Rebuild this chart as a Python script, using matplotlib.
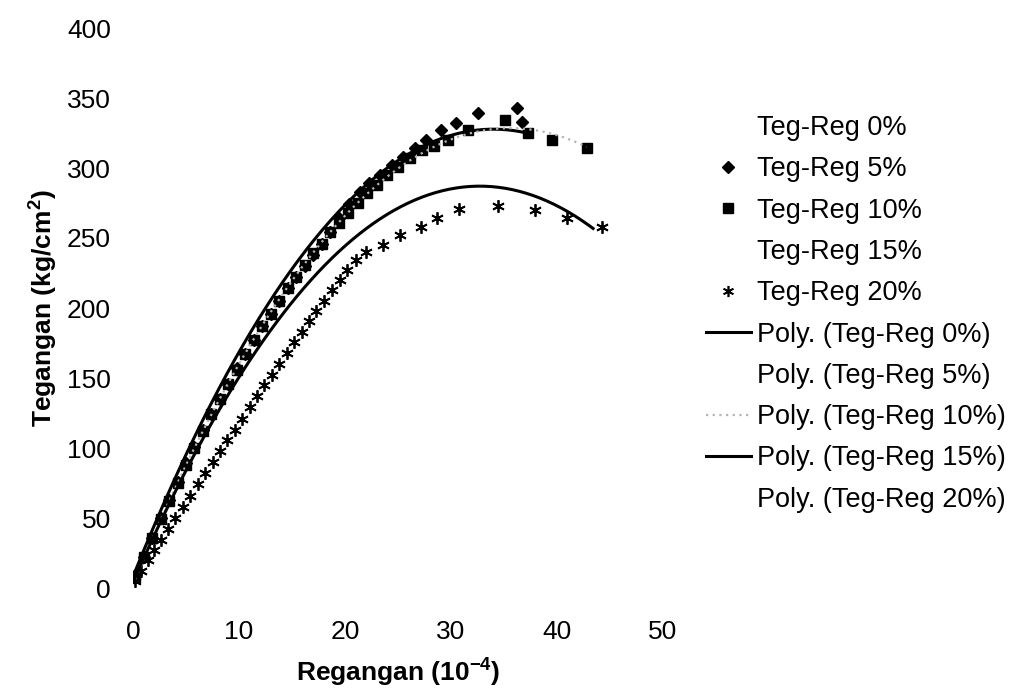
import numpy as np
import matplotlib
matplotlib.use("Agg")
import matplotlib.pyplot as plt
from matplotlib.lines import Line2D

plt.rcParams['font.family'] = ['Liberation Sans', 'DejaVu Sans']
plt.rcParams['mathtext.default'] = 'regular'

# ---- data ----
# Teg-Reg 0% (markers not visible in the original, only its trendline)
x0 = [0, 2, 4, 6, 8, 10, 12, 14, 16, 18, 20, 22, 24, 26, 28, 30, 32, 34, 36, 37.6]
y0 = [8, 46, 77, 112, 139, 170, 193, 219, 237, 258, 272, 289, 299, 311, 317, 324, 326, 329, 326, 324]

# Teg-Reg 5% (diamonds)
x5 = [0.3, 1.0, 1.8, 2.6, 3.4, 4.2, 5.0, 5.8, 6.6, 7.4, 8.2, 9.0, 9.8, 10.6, 11.4, 12.2,
      13.0, 13.8, 14.6, 15.4, 16.2, 17.0, 17.8, 18.6, 19.4, 20.4, 21.4, 22.3, 23.3, 24.4,
      25.5, 26.6, 27.6, 29.1, 30.5, 32.5, 36.2, 36.7]
y5 = [10, 22, 36, 50, 63, 76, 89, 101, 113, 124, 135, 146, 157, 167, 177, 187,
      196, 205, 214, 222, 230, 238, 246, 254, 264, 274, 283, 289, 295, 302,
      308, 314, 320, 327, 332, 339, 343, 333]

# Teg-Reg 10% (squares)
x10 = [0.2, 1.0, 1.8, 2.6, 3.4, 4.2, 5.0, 5.8, 6.6, 7.4, 8.2, 9.0, 9.8, 10.6, 11.4, 12.2,
       13.0, 13.8, 14.6, 15.4, 16.2, 17.0, 17.8, 18.6, 19.4, 20.3, 21.2, 22.1, 23.0, 24.0,
       25.0, 26.1, 27.3, 28.4, 29.7, 31.6, 35.1, 37.3, 39.5, 42.8]
y10 = [8, 22, 36, 49, 62, 75, 88, 100, 112, 124, 135, 146, 156, 167, 177, 187,
       196, 205, 214, 222, 231, 239, 246, 254, 261, 268, 275, 282, 288, 295,
       301, 307, 313, 316, 320, 327, 334, 325, 320, 314]

# Teg-Reg 15% (markers not visible in the original, only its trendline)
x15 = [0, 2, 4, 6, 8, 10, 12, 14, 16, 18, 20, 22, 24, 26, 28, 30, 32, 34, 36, 38, 40, 42, 43.4]
y15 = [4, 36, 70, 97, 127, 150, 175, 194, 215, 229, 246, 256, 268, 274, 281, 284, 287, 286, 284, 278, 272, 265, 259]

# Teg-Reg 20% (asterisks)
x20 = [0.2, 0.8, 1.4, 2.0, 2.6, 3.3, 4.0, 4.7, 5.4, 6.1, 6.8, 7.5, 8.2, 8.9, 9.6, 10.3,
       11.0, 11.7, 12.4, 13.1, 13.8, 14.5, 15.2, 15.9, 16.6, 17.3, 18.0, 18.75, 19.5, 20.2,
       21.0, 22.0, 23.6, 25.2, 27.2, 28.7, 30.8, 34.4, 37.9, 40.9, 44.2]
y20 = [5, 12, 20, 27, 34, 42, 50, 58, 66, 74, 82, 90, 98, 106, 113, 121,
       129, 137, 145, 152, 160, 168, 176, 183, 191, 198, 205, 213, 220, 227,
       234, 240, 245, 252, 258, 264, 271, 273, 270, 264, 258]

x_ticks = [0, 10, 20, 30, 40, 50]
y_ticks = [0, 50, 100, 150, 200, 250, 300, 350, 400]

FS = 19
FS_LEG = 19.5

fig = plt.figure(figsize=(10.11, 6.96), dpi=100)
ax = fig.add_axes([133 / 1011, 1 - 588 / 696, (663 - 133) / 1011, (588 - 28) / 696])


def trend(x, y, deg=2):
    c = np.polyfit(x, y, deg)
    xs = np.linspace(min(x), max(x), 200)
    return xs, np.polyval(c, xs)


# markers
ax.plot(x5, y5, linestyle='none', marker='D', ms=6.5, color='black', zorder=3)
ax.plot(x10, y10, linestyle='none', marker='s', ms=6.5, color='black', zorder=3)
ax.plot(x20, y20, linestyle='none', marker=(6, 2, 0), ms=9, mew=1.3, color='black', zorder=3)

# polynomial trendlines
xs, ys = trend(x0, y0)
ax.plot(xs, ys, color='black', lw=2.2, zorder=4)
xs, ys = trend(x10, y10)
ax.plot(xs, ys, color='#b4b4b4', lw=1.6, ls=(0, (1, 2)), zorder=4)
xs, ys = trend(x15, y15)
ax.plot(xs, ys, color='black', lw=2.2, zorder=4)

ax.set_xlim(0, 50)
ax.set_ylim(0, 400)
ax.set_xticks(x_ticks)
ax.set_yticks(y_ticks)
ax.tick_params(axis='both', length=0, labelsize=FS)
ax.tick_params(axis='x', pad=23)
ax.tick_params(axis='y', pad=16)
for s in ax.spines.values():
    s.set_visible(False)

ax.set_xlabel('Regangan (10$^{-4}$)', fontsize=FS, fontweight='bold', labelpad=9)
ax.set_ylabel('Tegangan (kg/cm$^{2}$)', fontsize=FS, fontweight='bold', labelpad=5)

blank = dict(color='none', linestyle='none')
handles = [
    Line2D([], [], **blank),
    Line2D([], [], linestyle='none', marker='D', ms=6, color='black'),
    Line2D([], [], linestyle='none', marker='s', ms=6.5, color='black'),
    Line2D([], [], **blank),
    Line2D([], [], linestyle='none', marker=(6, 2, 0), ms=8, mew=1.2, color='black'),
    Line2D([], [], color='black', lw=2.2),
    Line2D([], [], **blank),
    Line2D([], [], color='#b4b4b4', lw=1.6, ls=(0, (1, 2))),
    Line2D([], [], color='black', lw=2.2),
    Line2D([], [], **blank),
]
labels = ['Teg-Reg 0%', 'Teg-Reg 5%', 'Teg-Reg 10%', 'Teg-Reg 15%', 'Teg-Reg 20%',
          'Poly. (Teg-Reg 0%)', 'Poly. (Teg-Reg 5%)', 'Poly. (Teg-Reg 10%)',
          'Poly. (Teg-Reg 15%)', 'Poly. (Teg-Reg 20%)']
fig.legend(handles, labels, loc='upper left', bbox_to_anchor=(706 / 1011, 1 - 115 / 696),
           frameon=False, fontsize=FS_LEG, handlelength=1.65, handletextpad=0.25,
           labelspacing=0.565, borderpad=0, borderaxespad=0)

fig.savefig('out.png', dpi=100, facecolor='white')
